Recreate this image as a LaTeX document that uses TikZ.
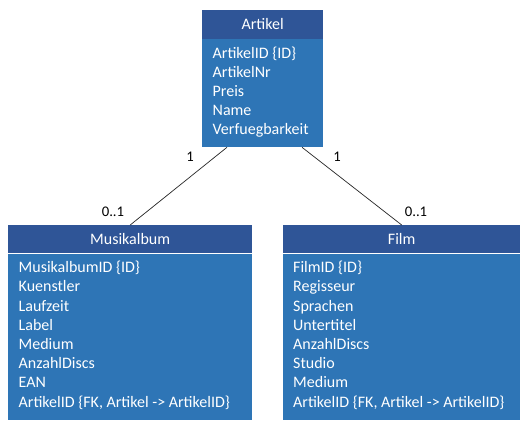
\documentclass[tikz,border=0pt]{standalone}
\usepackage{fontspec}
\setmainfont{Carlito}
\definecolor{hdr}{HTML}{2F5597}
\definecolor{bdy}{HTML}{2E75B6}
\tikzset{
  hdrbox/.style={fill=hdr, draw=none, inner sep=0pt, anchor=north west, text=white,
    font=\fontsize{16}{19}\selectfont, text height=10pt, text depth=0pt},
  bdybox/.style={fill=bdy, draw=none, inner sep=0pt, anchor=north west},
  row/.style={anchor=base west, inner sep=0pt, text=white, font=\fontsize{16}{19}\selectfont},
  mult/.style={anchor=base, inner sep=0pt, text=black, font=\fontsize{14.7}{17}\selectfont},
  conn/.style={draw=black!85, line width=0.7pt}
}
\begin{document}
\begin{tikzpicture}[x=1pt,y=-1pt]
\useasboundingbox[fill=white] (0,0) rectangle (529,430);
% Artikel
\node[hdrbox, minimum width=121pt, minimum height=28.5pt] (artH) at (202,10) {Artikel};
\node[bdybox, minimum width=121pt, minimum height=108pt] (artB) at (artH.south west) {};
\foreach \t [count=\i from 0] in {ArtikelID \{ID\}, ArtikelNr, Preis, Name, Verfuegbarkeit}
  \node[row] (artR\i) at ([xshift=10.5pt, yshift=-19.2pt-19.05pt*\i]artB.north west) {\t};
% Musikalbum
\node[hdrbox, minimum width=244pt, minimum height=28pt] (musH) at (8,225) {Musikalbum};
\node[bdybox, minimum width=244pt, minimum height=166pt] (musB) at (musH.south west) {};
\foreach \t [count=\i from 0] in {MusikalbumID \{ID\}, Kuenstler, Laufzeit, Label, Medium, AnzahlDiscs, EAN, {ArtikelID \{FK, Artikel -> ArtikelID\}}}
  \node[row] (musR\i) at ([xshift=10.5pt, yshift=-19.3pt-19.19pt*\i]musB.north west) {\t};
% Film
\node[hdrbox, minimum width=237pt, minimum height=28pt] (filH) at (283,225) {Film};
\node[bdybox, minimum width=237pt, minimum height=166pt] (filB) at (filH.south west) {};
\foreach \t [count=\i from 0] in {FilmID \{ID\}, Regisseur, Sprachen, Untertitel, AnzahlDiscs, Studio, Medium, {ArtikelID \{FK, Artikel -> ArtikelID\}}}
  \node[row] (filR\i) at ([xshift=10pt, yshift=-19.3pt-19.19pt*\i]filB.north west) {\t};
% connectors
\coordinate (artL) at ([xshift=25pt]artB.south west);
\coordinate (artR) at ([xshift=100pt]artB.south west);
\draw[conn] (artL) -- (musH.north);
\draw[conn] (artR) -- (filH.north);
% multiplicities
\node[mult] (m1) at (190,161.7) {1};
\node[mult] (m2) at (337,161.7) {1};
\node[mult] (m3) at (113,216.7) {0..1};
\node[mult] (m4) at (416,216.7) {0..1};
\end{tikzpicture}
\end{document}
